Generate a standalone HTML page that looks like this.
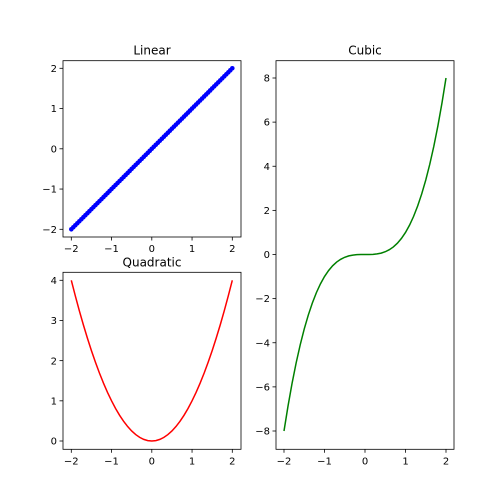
<!DOCTYPE html>
<html><head><meta charset="utf-8"><style>
html,body{margin:0;padding:0;background:#fff;}
svg{display:block;font-family:"DejaVu Sans","Liberation Sans",sans-serif;}
</style></head><body>
<svg id="fig" width="504" height="504" viewBox="0 0 504 504">
<rect width="504" height="504" fill="#fff"/>
</svg>
<script>
const xs=[-2,-1.9,-1.8,-1.7,-1.6,-1.5,-1.4,-1.3,-1.2,-1.1,-1,-0.9,-0.8,-0.7,-0.6,-0.5,-0.4,-0.3,-0.2,-0.1,0,0.1,0.2,0.3,0.4,0.5,0.6,0.7,0.8,0.9,1,1.1,1.2,1.3,1.4,1.5,1.6,1.7,1.8,1.9,2];
const linX=[-2,-1.95,-1.9,-1.85,-1.8,-1.75,-1.7,-1.65,-1.6,-1.55,-1.5,-1.45,-1.4,-1.35,-1.3,-1.25,-1.2,-1.15,-1.1,-1.05,-1,-0.95,-0.9,-0.85,-0.8,-0.75,-0.7,-0.65,-0.6,-0.55,-0.5,-0.45,-0.4,-0.35,-0.3,-0.25,-0.2,-0.15,-0.1,-0.05,0,0.05,0.1,0.15,0.2,0.25,0.3,0.35,0.4,0.45,0.5,0.55,0.6,0.65,0.7,0.75,0.8,0.85,0.9,0.95,1,1.05,1.1,1.15,1.2,1.25,1.3,1.35,1.4,1.45,1.5,1.55,1.6,1.65,1.7,1.75,1.8,1.85,1.9,1.95,2];
const linearY=[-2,-1.95,-1.9,-1.85,-1.8,-1.75,-1.7,-1.65,-1.6,-1.55,-1.5,-1.45,-1.4,-1.35,-1.3,-1.25,-1.2,-1.15,-1.1,-1.05,-1,-0.95,-0.9,-0.85,-0.8,-0.75,-0.7,-0.65,-0.6,-0.55,-0.5,-0.45,-0.4,-0.35,-0.3,-0.25,-0.2,-0.15,-0.1,-0.05,0,0.05,0.1,0.15,0.2,0.25,0.3,0.35,0.4,0.45,0.5,0.55,0.6,0.65,0.7,0.75,0.8,0.85,0.9,0.95,1,1.05,1.1,1.15,1.2,1.25,1.3,1.35,1.4,1.45,1.5,1.55,1.6,1.65,1.7,1.75,1.8,1.85,1.9,1.95,2];
const quadY=[4,3.61,3.24,2.89,2.56,2.25,1.96,1.69,1.44,1.21,1,0.81,0.64,0.49,0.36,0.25,0.16,0.09,0.04,0.01,0,0.01,0.04,0.09,0.16,0.25,0.36,0.49,0.64,0.81,1,1.21,1.44,1.69,1.96,2.25,2.56,2.89,3.24,3.61,4];
const cubicY=[-8,-6.859,-5.832,-4.913,-4.096,-3.375,-2.744,-2.197,-1.728,-1.331,-1,-0.729,-0.512,-0.343,-0.216,-0.125,-0.064,-0.027,-0.008,-0.001,0,0.001,0.008,0.027,0.064,0.125,0.216,0.343,0.512,0.729,1,1.331,1.728,2.197,2.744,3.375,4.096,4.913,5.832,6.859,8];
const xTicks=[-2,-1,0,1,2];
const linYTicks=[-2,-1,0,1,2];
const quadYTicks=[0,1,2,3,4];
const cubYTicks=[-8,-6,-4,-2,0,2,4,6,8];

const NS="http://www.w3.org/2000/svg";
const svg=document.getElementById('fig');
function mk(tag,attrs,parent){const e=document.createElementNS(NS,tag);for(const k in attrs)e.setAttribute(k,attrs[k]);(parent||svg).appendChild(e);return e;}
function fmt(v){return v<0?'\u2212'+Math.abs(v):String(v);}

function axes(name,box,xd,yd,yticks,title){
  const g=mk('g',{});
  
  
  const sx=v=>box.x0+(v-xd[0])/(xd[1]-xd[0])*(box.x1-box.x0);
  const sy=v=>box.y0+(yd[1]-v)/(yd[1]-yd[0])*(box.y1-box.y0);
  const L=box.l,R=box.r,T=box.t,B=box.b;
  xTicks.forEach(t=>{const x=sx(t);
    const tk=mk('line',{x1:x,x2:x,y1:B,y2:B+3.5,stroke:'#000','stroke-width':0.8},g);
    
    const tx=mk('text',{x:x,y:B+15,'font-size':10,'text-anchor':'middle',fill:'#000'},g);tx.textContent=fmt(t);
    });
  yticks.forEach(t=>{const y=sy(t);
    const tk=mk('line',{x1:L-3.5,x2:L,y1:y,y2:y,stroke:'#000','stroke-width':0.8},g);
    
    const tx=mk('text',{x:L-6,y:y+3.6,'font-size':10,'text-anchor':'end',fill:'#000'},g);tx.textContent=fmt(t);
    });
  const tt=mk('text',{x:(L+R)/2,y:T-6,'font-size':12,'text-anchor':'middle',fill:'#000'},g);tt.textContent=title;
  
  return {g,sx,sy,L,R,T,B};
}
function frame(a){const r=mk('rect',{x:a.L,y:a.T,width:a.R-a.L,height:a.B-a.T,fill:'none',stroke:'#000','stroke-width':0.8},a.g);
  }
function line(a,xv,ys,color,name){const d=xv.map((x,i)=>(i?'L':'M')+a.sx(x).toFixed(2)+','+a.sy(ys[i]).toFixed(2)).join('');
  const p=mk('path',{d:d,fill:'none',stroke:color,'stroke-width':1.5},a.g);
  return p;}

const lin=axes('linear-axes',{l:63,r:241,t:60.7,b:237,x0:71.3,x1:232.3,y0:68.3,y1:229.3},[-2,2],[-2,2],linYTicks,'Linear');
line(lin,linX,linearY,'#0000ff','linear-line');
linX.forEach((x,i)=>{const c=mk('circle',{cx:lin.sx(x),cy:lin.sy(linearY[i]),r:2.3,fill:'#0000ff'},lin.g);
  });
frame(lin);

const quad=axes('quadratic-axes',{l:63,r:241,t:272.3,b:449.3,x0:71.3,x1:232.3,y0:280.3,y1:441},[-2,2],[0,4],quadYTicks,'Quadratic');
line(quad,xs,quadY,'#ff0000','quadratic-line');
frame(quad);

const cub=axes('cubic-axes',{l:276,r:454,t:60.7,b:449.3,x0:284,x1:446,y0:78,y1:431},[-2,2],[-8,8],cubYTicks,'Cubic');
line(cub,xs,cubicY,'#008000','cubic-line');
frame(cub);
</script>
</body></html>
